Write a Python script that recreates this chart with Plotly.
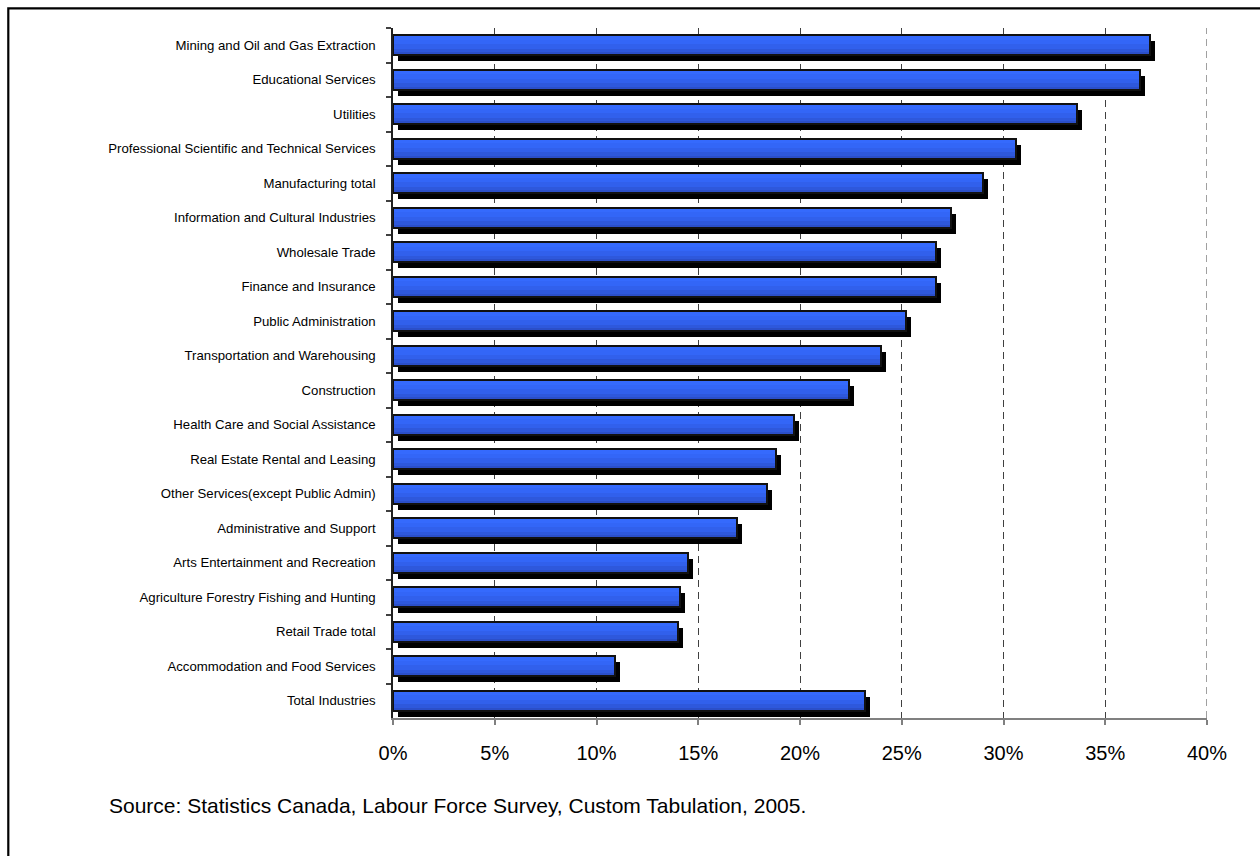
import plotly.graph_objects as go

categories = [
    "Mining and Oil and Gas Extraction",
    "Educational Services",
    "Utilities",
    "Professional Scientific and Technical Services",
    "Manufacturing total",
    "Information and Cultural Industries",
    "Wholesale Trade",
    "Finance and Insurance",
    "Public Administration",
    "Transportation and Warehousing",
    "Construction",
    "Health Care and Social Assistance",
    "Real Estate Rental and Leasing",
    "Other Services(except Public Admin)",
    "Administrative and Support",
    "Arts Entertainment and Recreation",
    "Agriculture Forestry Fishing and Hunting",
    "Retail Trade total",
    "Accommodation and Food Services",
    "Total Industries",
]
values = [37.2, 36.7, 33.6, 30.6, 29.0, 27.4, 26.7, 26.7, 25.2, 24.0,
          22.4, 19.7, 18.8, 18.4, 16.9, 14.5, 14.1, 14.0, 10.9, 23.2]
x_ticks = [0, 5, 10, 15, 20, 25, 30, 35, 40]
source_text = "Source: Statistics Canada, Labour Force Survey, Custom Tabulation, 2005."

W, H = 1260, 856
ML, MR, MT, MB = 393, 53, 28, 138
plot_w = W - ML - MR
plot_h = H - MT - MB
px_per_pct = plot_w / 40.0
px_per_cat = plot_h / len(categories)

bw = 0.59                      # bar thickness (category units)
top = -bw / 2                  # offset of bar top (axis reversed)
shadow_dx = 5 / px_per_pct     # shadow shift right (data units)
shadow_dy = 6 / px_per_cat     # shadow shift down (category units)

fig = go.Figure()

# shadow
fig.add_trace(go.Bar(
    y=categories, x=values, base=shadow_dx, orientation="h",
    width=bw, offset=top + shadow_dy,
    marker=dict(color="black", line=dict(width=0)),
    hoverinfo="skip", showlegend=False))

# gradient bands (top lighter, bottom darker)
bands = [(1.00, "#2b4fc9"), (0.84, "#2e58dc"), (0.66, "#3160ec"),
         (0.46, "#3366f7"), (0.24, "#356afd")]
for frac, col in bands:
    fig.add_trace(go.Bar(
        y=categories, x=values, orientation="h",
        width=bw * frac, offset=top,
        marker=dict(color=col, line=dict(width=0)),
        hoverinfo="skip", showlegend=False))

# outline
fig.add_trace(go.Bar(
    y=categories, x=values, orientation="h",
    width=bw, offset=top,
    marker=dict(color="rgba(0,0,0,0)", line=dict(color="#111111", width=2)),
    showlegend=False))

fig.update_layout(
    width=W, height=H,
    margin=dict(l=ML, r=MR, t=MT, b=MB, pad=0),
    paper_bgcolor="white", plot_bgcolor="white",
    barmode="overlay", bargap=0,
    font=dict(family="Arial, Liberation Sans, sans-serif", color="black"),
    xaxis=dict(
        range=[0, 40], tickvals=x_ticks,
        ticktext=[f"{v}%" for v in x_ticks],
        showgrid=True, gridcolor="#404040", gridwidth=1, griddash="7px,5px",
        zeroline=False, showline=True, linecolor="#808080", linewidth=1.5,
        ticks="outside", ticklen=5, tickcolor="#808080", tickwidth=1.5,
        tickfont=dict(size=20, color="black"), ticklabelstandoff=11,
        fixedrange=True),
    yaxis=dict(
        type="category", categoryorder="array", categoryarray=categories,
        autorange="reversed", tickson="boundaries",
        showgrid=False, zeroline=False, showline=True,
        linecolor="#202020", linewidth=1.5,
        ticks="outside", ticklen=5, tickcolor="#404040", tickwidth=1.5,
        tickfont=dict(size=13.2, color="black"), ticklabelstandoff=13,
        fixedrange=True),
)

# dashed gridline at the right edge of the range (40%)
fig.add_shape(type="line", xref="x", yref="paper",
              x0=x_ticks[-1], x1=x_ticks[-1], y0=0, y1=1,
              line=dict(color="#404040", width=1, dash="7px,5px"),
              layer="below")

# outer frame (left and top edges visible)
fx = (8.3 - ML) / plot_w
fy = (MT + plot_h - 8.3) / plot_h
fig.add_shape(type="path", xref="paper", yref="paper",
              path=f"M {fx},-1 L {fx},{fy} L 1.5,{fy}",
              line=dict(color="black", width=2.2), layer="above")

fig.add_annotation(
    text=source_text, xref="paper", yref="paper",
    x=(107 - ML) / plot_w, y=(MT + plot_h - 805) / plot_h,
    xanchor="left", yanchor="middle", showarrow=False,
    font=dict(size=21, color="black"))

fig.write_html("out.html")
